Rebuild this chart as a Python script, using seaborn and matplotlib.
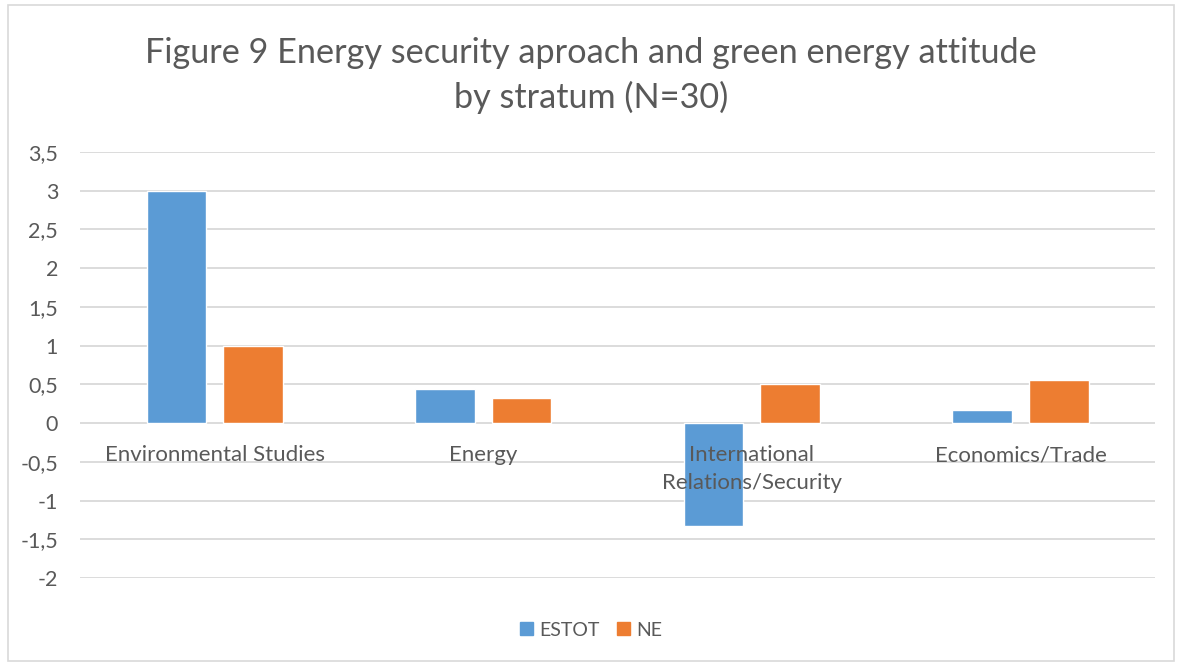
import matplotlib
matplotlib.use("Agg")
import matplotlib.pyplot as plt
from matplotlib.patches import Rectangle
from matplotlib.ticker import FuncFormatter
import seaborn as sns
import pandas as pd

# Data
categories = ["Environmental Studies", "Energy", "International\nRelations/Security", "Economics/Trade"]
series = ["ESTOT", "NE"]
estot = [3.0, 0.44, -1.33, 0.17]
ne = [1.0, 0.33, 0.5, 0.56]
yticks = [-2, -1.5, -1, -0.5, 0, 0.5, 1, 1.5, 2, 2.5, 3, 3.5]
title = "Figure 9 Energy security aproach and green energy attitude\nby stratum (N=30)"

colors = {"ESTOT": "#5B9BD5", "NE": "#ED7D31"}
text_color = "#595959"
grid_color = "#D9D9D9"

df = pd.DataFrame({
    "category": categories * 2,
    "series": [series[0]] * len(categories) + [series[1]] * len(categories),
    "value": estot + ne,
})

sns.set_theme(style="white")
plt.rcParams["font.family"] = ["Lato", "DejaVu Sans"]

fig = plt.figure(figsize=(11.82, 6.66), dpi=100)
ax = fig.add_axes([0.068, 0.132, 0.909, 0.640])

sns.barplot(data=df, x="category", y="value", hue="series", order=categories,
            hue_order=series, palette=colors, width=0.57, gap=0.22,
            saturation=1, errorbar=None, ax=ax, zorder=3, legend=True)

ax.set_ylim(-2, 3.5)
ax.set_yticks(yticks)
ax.yaxis.set_major_formatter(FuncFormatter(lambda v, _: f"{v:g}".replace(".", ",")))
ax.tick_params(axis="y", length=0, pad=16, labelsize=15.5, labelcolor=text_color)
ax.set_xlim(-0.5, len(categories) - 0.5)
for y in yticks:
    ax.axhline(y, color=grid_color, lw=1.3, zorder=1)
for s in ax.spines.values():
    s.set_visible(False)
ax.set_xlabel("")
ax.set_ylabel("")
ax.set_xticks([])

# Category labels sit just under the zero line
for i, c in enumerate(categories):
    ax.annotate(c, xy=(i, 0), xytext=(0, -16), textcoords="offset points",
                ha="center", va="top", fontsize=16, color=text_color,
                linespacing=1.45, zorder=4)

ax.legend_.remove()
handles = [Rectangle((0, 0), 1, 1, color=colors[s]) for s in series]
fig.legend(handles, series, loc="center", bbox_to_anchor=(0.5, 0.054), ncol=2,
           frameon=False, fontsize=14, labelcolor=text_color,
           handlelength=0.68, handleheight=0.68, handletextpad=0.32, columnspacing=0.9)

fig.text(0.5, 0.887, title, ha="center", va="center", fontsize=24.7,
         color=text_color, linespacing=1.42)

# Chart border
fig.add_artist(Rectangle((0.007, 0.008), 0.986, 0.984, transform=fig.transFigure,
                         fill=False, edgecolor="#D9D9D9", lw=1.2))

fig.savefig("out.png", dpi=100)
